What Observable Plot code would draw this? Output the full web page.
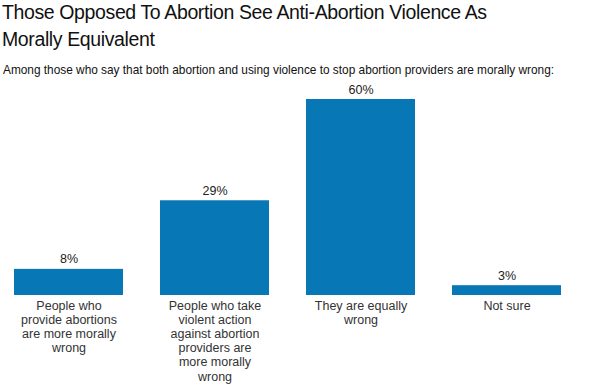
<!DOCTYPE html>
<html>
<head>
<meta charset="utf-8">
<script src="https://cdn.jsdelivr.net/npm/d3@7"></script>
<script src="https://cdn.jsdelivr.net/npm/@observablehq/plot@0.6"></script>
<style>
  html, body { margin: 0; padding: 0; background: #fff; }
  body { width: 601px; height: 389px; overflow: hidden; font-family: "Liberation Sans", Arial, Helvetica, sans-serif; }
  #title { position: absolute; left: 2px; top: -1px; font-size: 19.5px; letter-spacing: -0.38px; line-height: 27px; color: #111; width: 590px; white-space: nowrap; }
  #subtitle { position: absolute; left: 3px; top: 63px; font-size: 11.85px; line-height: 14px; color: #111; white-space: nowrap; }
  #chart { position: absolute; left: 0; top: 80px; }
</style>
</head>
<body>
<div id="title">Those Opposed To Abortion See Anti-Abortion Violence As<br>Morally Equivalent</div>
<div id="subtitle">Among those who say that both abortion and using violence to stop abortion providers are morally wrong:</div>
<div id="chart"></div>
<script>
const categories = [
  "People who\nprovide abortions\nare more morally\nwrong",
  "People who take\nviolent action\nagainst abortion\nproviders are\nmore morally\nwrong",
  "They are equally\nwrong",
  "Not sure"
];
const values = [8, 29, 60, 3];
const valueLabels = ["8%", "29%", "60%", "3%"];

const data = categories.map((c, i) => ({category: c, value: values[i], label: valueLabels[i]}));

const chart = Plot.plot({
  width: 601,
  height: 309,
  marginLeft: 13,
  marginRight: 39.5,
  marginTop: 19,
  marginBottom: 94,
  style: {fontFamily: "'Liberation Sans', Arial, sans-serif", fontSize: "12px", background: "#fff"},
  x: {domain: categories, paddingInner: 0.256, paddingOuter: 0, axis: null},
  y: {domain: [0, 60], axis: null},
  marks: [
    Plot.barY(data, {x: "category", y: "value", fill: "#0877b5"}),
    Plot.text(data, {x: "category", y: "value", text: "label", lineAnchor: "bottom", dy: -6, fill: "#222", fontSize: 12.5}),
    Plot.text(data, {x: "category", y: 0, text: "category", lineAnchor: "top", dy: 4, fill: "#333", fontSize: 12.5, lineHeight: 1.136})
  ]
});
document.getElementById("chart").appendChild(chart);
</script>
</body>
</html>
